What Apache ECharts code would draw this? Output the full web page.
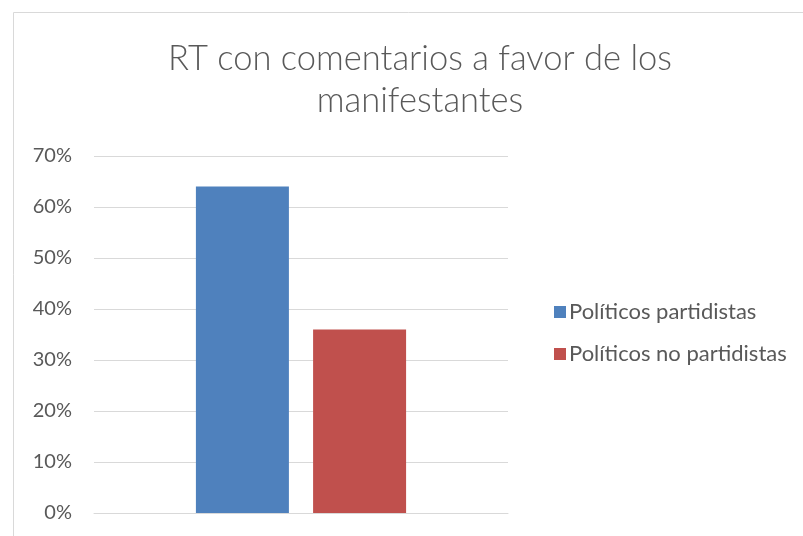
<!DOCTYPE html>
<html>
<head>
<meta charset="utf-8">
<script src="https://cdn.jsdelivr.net/npm/echarts@6/dist/echarts.min.js"></script>
<style>html,body{margin:0;padding:0;background:#fff;}#c{width:803px;height:536px;}</style>
</head>
<body>
<div id="c"></div>
<script>
var titleText = 'RT con comentarios a favor de los\nmanifestantes';
var categories = [''];
var seriesNames = ['Políticos partidistas', 'Políticos no partidistas'];
var partidistas = [0.64];
var noPartidistas = [0.36];
var yTicks = [0, 0.1, 0.2, 0.3, 0.4, 0.5, 0.6, 0.7];

var chart = echarts.init(document.getElementById('c'), null, {renderer: 'canvas'});
var font = 'Lato, "Open Sans", sans-serif';
chart.setOption({
  animation: false,
  graphic: [{type: 'rect', shape: {x: 13.5, y: 12.5, width: 800, height: 540}, style: {fill: 'none', stroke: '#d9d9d9', lineWidth: 1}, z: -1}],
  title: {
    text: titleText, left: 415, top: 33, textAlign: 'center',
    textStyle: {fontFamily: font, fontSize: 34.5, fontWeight: 300, color: '#595959', lineHeight: 42}
  },
  legend: {
    orient: 'vertical', left: 549, top: 296, itemWidth: 12, itemHeight: 12, itemGap: 20, icon: 'rect',
    data: seriesNames,
    textStyle: {fontFamily: font, fontSize: 22, color: '#595959', padding: [0, 0, 0, -2]}
  },
  grid: {left: 94, right: 295, top: 156, bottom: 23, containLabel: false},
  xAxis: {
    type: 'category', data: categories,
    axisLine: {show: true, lineStyle: {color: '#d9d9d9', width: 1}},
    axisTick: {show: false}, axisLabel: {show: false}
  },
  yAxis: {
    type: 'value', min: yTicks[0], max: yTicks[yTicks.length - 1], interval: 0.1,
    axisLine: {show: false}, axisTick: {show: false},
    splitLine: {lineStyle: {color: '#d9d9d9', width: 1}},
    axisLabel: {margin: 22, fontFamily: font, fontSize: 20, color: '#595959',
      formatter: function (v) { return Math.round(v * 100) + '%'; }}
  },
  series: [
    {name: seriesNames[0], type: 'bar', data: partidistas, barWidth: 93, barGap: '26%', itemStyle: {color: '#4f81bd'}},
    {name: seriesNames[1], type: 'bar', data: noPartidistas, barWidth: 93, itemStyle: {color: '#c0504d'}}
  ]
});
</script>
</body>
</html>
